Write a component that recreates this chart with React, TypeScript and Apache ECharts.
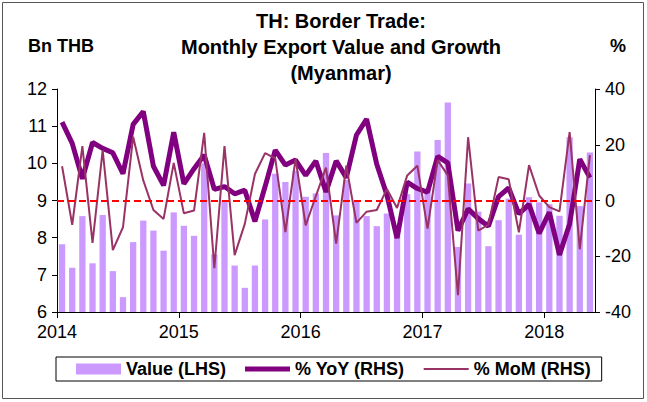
import React, { useEffect, useRef } from "react";
import * as echarts from "echarts";

const MONTHS = ["Jan","Feb","Mar","Apr","May","Jun","Jul","Aug","Sep","Oct","Nov","Dec"];
const START_YEAR = 2014;
const N_MONTHS = 53;
const categories: string[] = Array.from({ length: N_MONTHS }, (_, i) => `${MONTHS[i % 12]}-${START_YEAR + Math.floor(i / 12)}`);

const yearTickPositions = [0, 12, 24, 36, 48];
const yearLabels = ["2014", "2015", "2016", "2017", "2018"];

// Bn THB
const valueLHS = [
  7.82, 7.19, 8.58, 7.31, 8.61, 7.10, 6.40, 7.88, 8.46, 8.19, 7.65, 8.68,
  8.32, 8.05, 10.0, 7.55, 9.0, 7.25, 6.65, 7.25, 8.49, 9.72, 9.5, 9.8,
  9.1, 9.19, 10.28, 8.6, 9.55, 8.96, 8.58, 8.31, 8.65, 8.3, 9.17, 10.32,
  9.3, 10.63, 11.64, 7.75, 9.46, 8.7, 7.77, 8.47, 9.05, 8.08, 9.09, 8.95,
  8.9, 8.59, 10.7, 8.85, 10.29,
];
// %
const yoyRHS = [
  28.1, 20.5, 7.8, 20.8, 18.7, 17.1, 9.6, 27.3, 31.9, 12.3, 5.4, 24.5,
  6.0, 11.4, 16.3, 4.0, 5.0, 2.4, 3.7, -7.5, 5.0, 18.1, 12.7, 14.5,
  9.0, 14.2, 3.1, 14.2, 8.2, 23.5, 29.2, 13.0, 2.0, -13.5, 6.6, 4.3,
  3.0, 15.8, 13.5, -10.8, -3.0, -6.5, -9.2, 1.4, 4.5, -4.8, -1.4, -11.8,
  -4.2, -19.5, -8.4, 14.8, 8.2,
];
const momRHS = [
  12.3, -8.7, 19.5, -15.2, 18.1, -17.8, -9.6, 22.9, 7.2, -3.4, -6.6, 13.5,
  -4.6, -3.6, 24.3, -24.3, 19.5, -19.6, -8.4, 9.5, 17.0, 15.1, -11.3, 14.9,
  -8.9, 1.6, 11.8, -15.5, 12.5, -8.0, -4.0, -3.4, 4.1, -2.7, 9.0, 12.5,
  -10.1, 14.5, 9.0, -34.0, 22.7, -10.8, -8.7, 8.4, 7.6, -11.4, 12.7, 1.8,
  -2.4, -3.9, 24.5, -17.5, 16.3,
];
const zeroLineLHS = 9;

const FONT = "'Liberation Sans', Arial, sans-serif";
const THICK_ICON = "path://M0,0L0.01,0M0,3L45,3L45,8L0,8ZM0,11L0.01,11";
const THIN_ICON = "path://M0,0L0.01,0M0,4.5L45,4.5L45,6.5L0,6.5ZM0,11L0.01,11";

export default function App() {
  const ref = useRef<HTMLDivElement>(null);
  useEffect(() => {
    if (!ref.current) return;
    const chart = echarts.init(ref.current, undefined, { renderer: "svg" });
    const axisLine = { show: true, lineStyle: { color: "#000", width: 1 } };
    chart.setOption({
      animation: false,
      backgroundColor: "#fff",
      textStyle: { fontFamily: FONT },
      title: {
        text: "TH: Border Trade:\nMonthly Export Value and Growth\n(Myanmar)",
        left: 336,
        textAlign: "center",
        top: 3,
        textStyle: { fontFamily: FONT, fontSize: 20, fontWeight: "bold", color: "#000", lineHeight: 26 },
      },
      graphic: [
        { type: "rect", shape: { x: 2.5, y: 2.5, width: 641, height: 396 }, style: { fill: "none", stroke: "#555", lineWidth: 1 }, silent: true },
        { type: "text", x: 28, y: 46, style: { text: "Bn THB", fontFamily: FONT, fontSize: 18, fontWeight: "bold", fill: "#000", verticalAlign: "middle" } },
        { type: "text", x: 610, y: 46, style: { text: "%", fontFamily: FONT, fontSize: 18, fontWeight: "bold", fill: "#000", verticalAlign: "middle" } },
      ],
      grid: { left: 57, right: 52, top: 89, bottom: 90 },
      legend: {
        left: 56,
        top: 357,
        itemWidth: 45,
        itemHeight: 11,
        itemGap: 19,
        padding: [3, 11, 3, 20],
        borderColor: "#000",
        borderWidth: 1,
        textStyle: { fontFamily: FONT, fontSize: 18, fontWeight: "bold", color: "#000" },
        data: [
          { name: "Value (LHS)", icon: "rect" },
          { name: "% YoY (RHS)", icon: THICK_ICON },
          { name: "% MoM (RHS)", icon: THIN_ICON },
        ],
      },
      xAxis: [
        { type: "category", data: categories, show: false, boundaryGap: true },
        {
          type: "value",
          position: "bottom",
          min: 0,
          max: N_MONTHS,
          interval: 12,
          splitLine: { show: false },
          axisLine,
          axisTick: { show: true, length: 6, lineStyle: { color: "#000" }, customValues: yearTickPositions },
          axisLabel: {
            fontFamily: FONT,
            fontSize: 18,
            lineHeight: 16,
            color: "#000",
            margin: 12,
            customValues: yearTickPositions,
            formatter: (v: number) => {
              const i = yearTickPositions.indexOf(v);
              return i >= 0 ? yearLabels[i] : "";
            },
          },
        },
      ],
      yAxis: [
        {
          type: "value",
          min: 6,
          max: 12,
          interval: 1,
          position: "left",
          splitLine: { show: false },
          axisLine,
          axisTick: { show: true, length: 5, lineStyle: { color: "#000" } },
          axisLabel: { fontFamily: FONT, fontSize: 18, lineHeight: 16, color: "#000", margin: 10 },
        },
        {
          type: "value",
          min: -40,
          max: 40,
          interval: 20,
          position: "right",
          splitLine: { show: false },
          axisLine,
          axisTick: { show: true, length: 5, lineStyle: { color: "#000" } },
          axisLabel: { fontFamily: FONT, fontSize: 18, lineHeight: 16, color: "#000", margin: 10 },
        },
      ],
      series: [
        {
          name: "Value (LHS)",
          type: "bar",
          xAxisIndex: 0,
          yAxisIndex: 0,
          data: valueLHS,
          barCategoryGap: "38%",
          itemStyle: { color: "#CC99FF" },
          markLine: {
            silent: true,
            symbol: ["none", "none"],
            label: { show: false },
            lineStyle: { color: "#FF0000", type: [7, 4], width: 2 },
            data: [{ yAxis: zeroLineLHS }],
          },
        },
        {
          name: "% YoY (RHS)",
          type: "line",
          xAxisIndex: 0,
          yAxisIndex: 1,
          data: yoyRHS,
          symbol: "none",
          lineStyle: { color: "#800080", width: 5 },
          itemStyle: { color: "#800080" },
          z: 3,
        },
        {
          name: "% MoM (RHS)",
          type: "line",
          xAxisIndex: 0,
          yAxisIndex: 1,
          data: momRHS,
          symbol: "none",
          lineStyle: { color: "#993366", width: 2 },
          itemStyle: { color: "#993366" },
          z: 4,
        },
      ],
    });
    return () => chart.dispose();
  }, []);
  return <div ref={ref} style={{ position: "fixed", left: 0, top: 0, width: 647, height: 402 }} />;
}
